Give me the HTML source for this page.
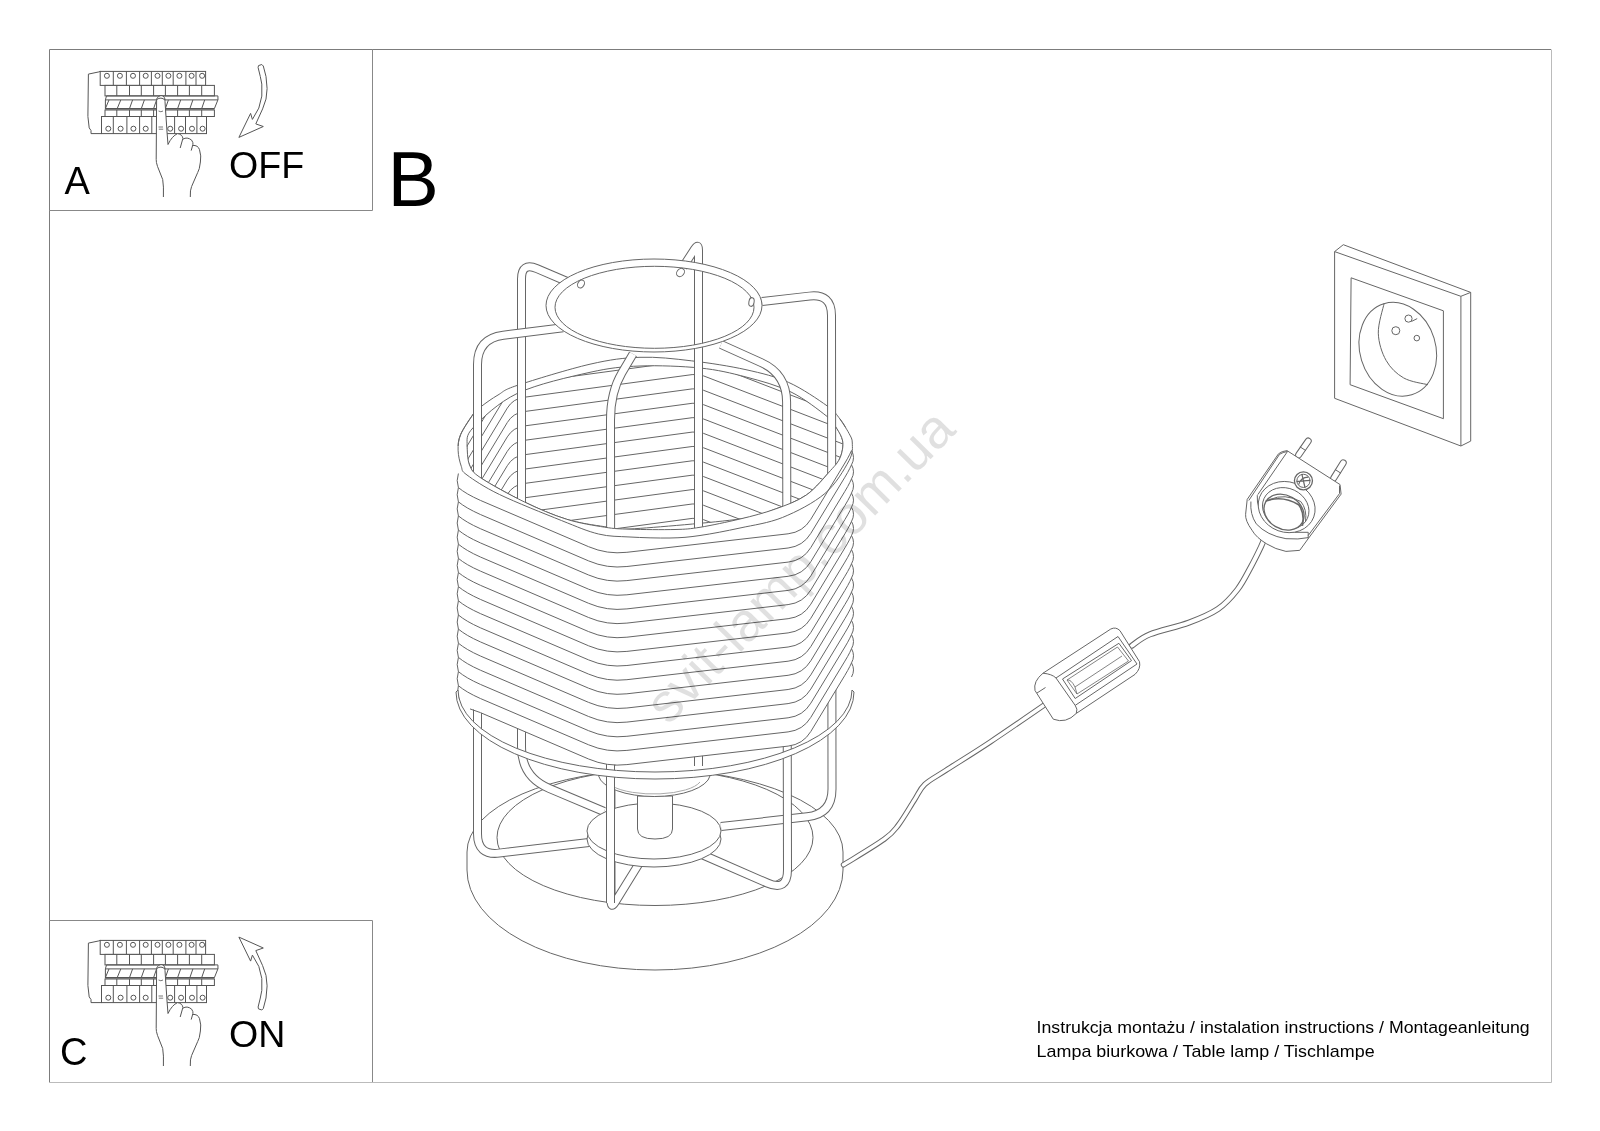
<!DOCTYPE html>
<html><head><meta charset="utf-8">
<style>
html,body{margin:0;padding:0;background:#fff;width:1600px;height:1131px;overflow:hidden}
svg{position:absolute;left:0;top:0;will-change:transform}
text{font-family:"Liberation Sans",sans-serif;fill:#000}
</style></head>
<body>
<svg width="1600" height="1131" viewBox="0 0 1600 1131">
<!-- frames -->
<g fill="none" stroke-width="1">
<path d="M49.5 1082.5 V49.5 H1551" stroke="#7c7c7c"/>
<path d="M1551.5 49.5 V1082.5 H49" stroke="#bbb"/>
<path d="M49 210.5 H372.5 V49" stroke="#888"/>
<path d="M49 920.5 H372.5 V1082" stroke="#888"/>
</g>
<text x="64.5" y="194" font-size="38">A</text>
<text x="229" y="178" font-size="37.6">OFF</text>
<text x="387.5" y="206" font-size="77">B</text>
<text x="60" y="1064.5" font-size="38">C</text>
<text x="229" y="1047" font-size="37.6">ON</text>
<text transform="translate(1036.6 1033.2) scale(1.055 1)" x="0" y="0" font-size="16.8">Instrukcja montażu / instalation instructions / Montageanleitung</text>
<text transform="translate(1036.6 1057) scale(1.066 1)" x="0" y="0" font-size="16.8">Lampa biurkowa / Table lamp / Tischlampe</text>
<path d="M467,852 A188,82 0 0 1 843,852 L843,870 A188,100 0 0 1 467,870 Z" fill="#fff" stroke="#666"/>
<ellipse cx="655" cy="837.5" rx="158" ry="68" fill="#fff" stroke="#666" stroke-width="1"/>
<path d="M458.1,450.2C458.0,444.9 458.1,440.6 460.6,434.6C463.1,428.6 469.8,418.7 473.3,414.0C476.8,409.3 477.4,409.5 481.5,406.3C485.6,403.1 492.0,398.5 498.0,395.0C504.0,391.5 502.2,390.4 517.5,385.3C532.8,380.2 569.6,368.9 590.0,364.2C610.4,359.5 623.1,357.9 640.0,357.3C656.9,356.7 673.6,358.7 691.3,360.8C709.0,362.9 729.8,366.1 746.0,369.7C762.2,373.3 775.1,376.4 788.6,382.4C802.1,388.4 818.4,399.7 827.0,405.8C835.6,411.9 836.3,414.4 840.0,419.0C843.7,423.6 847.0,429.4 849.0,433.4C851.0,437.4 852.3,438.4 852.3,443.0C852.3,447.6 853.5,452.5 848.9,460.9C844.3,469.3 836.0,484.1 824.9,493.5C813.8,502.9 796.5,511.6 782.4,517.5C768.2,523.4 765.4,525.6 740.0,528.8C714.6,532.0 653.6,535.7 630.0,536.6C606.4,537.5 609.9,536.7 598.5,534.0C587.1,531.3 577.9,527.1 561.4,520.5C544.9,513.9 515.2,502.1 499.5,494.5C483.8,486.9 473.4,479.7 467.0,475.0C460.6,470.3 462.8,470.5 461.3,466.4C459.8,462.3 458.2,455.5 458.1,450.2Z" fill="#fff" stroke="#666"/>
<clipPath id="opening"><path d="M467.0,446.0C467.6,439.8 464.9,436.3 473.3,427.5C481.7,418.7 498.1,402.5 517.5,393.3C537.0,384.1 569.6,376.9 590.0,372.3C610.4,367.8 621.7,366.7 640.0,366.0C658.3,365.3 682.3,366.2 700.0,368.0C717.7,369.8 730.8,373.0 746.0,377.0C761.2,381.0 777.5,385.4 791.0,392.0C804.5,398.6 819.5,410.6 827.0,416.4C834.5,422.2 833.4,423.5 835.9,427.0C838.4,430.5 840.6,434.3 841.7,437.6C842.9,440.9 843.2,443.4 842.8,447.0C842.4,450.6 841.5,455.1 839.5,459.0C837.5,462.9 836.0,464.5 830.5,470.5C825.0,476.5 815.7,488.5 806.5,494.9C797.3,501.3 786.5,505.0 775.4,509.0C764.3,513.0 764.2,515.7 740.0,519.0C715.8,522.3 652.5,527.7 630.0,529.0C607.5,530.3 615.3,528.3 604.7,526.7C594.1,525.1 579.8,523.3 566.4,519.2C553.0,515.1 538.5,508.8 524.3,501.9C510.1,495.0 490.1,484.1 481.0,478.0C471.9,471.9 471.8,470.3 469.5,465.0C467.2,459.7 466.4,452.2 467.0,446.0Z"/></clipPath>
<path d="M467.0,446.0C467.6,439.8 464.9,436.3 473.3,427.5C481.7,418.7 498.1,402.5 517.5,393.3C537.0,384.1 569.6,376.9 590.0,372.3C610.4,367.8 621.7,366.7 640.0,366.0C658.3,365.3 682.3,366.2 700.0,368.0C717.7,369.8 730.8,373.0 746.0,377.0C761.2,381.0 777.5,385.4 791.0,392.0C804.5,398.6 819.5,410.6 827.0,416.4C834.5,422.2 833.4,423.5 835.9,427.0C838.4,430.5 840.6,434.3 841.7,437.6C842.9,440.9 843.2,443.4 842.8,447.0C842.4,450.6 841.5,455.1 839.5,459.0C837.5,462.9 836.0,464.5 830.5,470.5C825.0,476.5 815.7,488.5 806.5,494.9C797.3,501.3 786.5,505.0 775.4,509.0C764.3,513.0 764.2,515.7 740.0,519.0C715.8,522.3 652.5,527.7 630.0,529.0C607.5,530.3 615.3,528.3 604.7,526.7C594.1,525.1 579.8,523.3 566.4,519.2C553.0,515.1 538.5,508.8 524.3,501.9C510.1,495.0 490.1,484.1 481.0,478.0C471.9,471.9 471.8,470.3 469.5,465.0C467.2,459.7 466.4,452.2 467.0,446.0Z" fill="#fff" stroke="#666"/>
<g clip-path="url(#opening)">
<path d="M455.0,451.6L507.3,365.0Q513.0,355.6 523.9,354.1L692.1,331.4Q698.0,330.6 703.6,332.8L850.0,389.1" fill="none" stroke="#666" stroke-width="1" />
<path d="M455.0,466.0L507.3,379.4Q513.0,370.0 523.9,368.5L692.1,345.8Q698.0,345.0 703.6,347.1L850.0,403.5" fill="none" stroke="#666" stroke-width="1" />
<path d="M455.0,480.3L507.3,393.8Q513.0,384.3 523.9,382.9L692.1,360.2Q698.0,359.4 703.6,361.5L850.0,417.9" fill="none" stroke="#666" stroke-width="1" />
<path d="M455.0,494.7L507.3,408.1Q513.0,398.7 523.9,397.3L692.1,374.6Q698.0,373.8 703.6,375.9L850.0,432.3" fill="none" stroke="#666" stroke-width="1" />
<path d="M455.0,509.1L507.3,422.5Q513.0,413.1 523.9,411.6L692.1,388.9Q698.0,388.1 703.6,390.3L850.0,446.7" fill="none" stroke="#666" stroke-width="1" />
<path d="M455.0,523.5L507.3,436.9Q513.0,427.5 523.9,426.0L692.1,403.3Q698.0,402.5 703.6,404.7L850.0,461.0" fill="none" stroke="#666" stroke-width="1" />
<path d="M455.0,537.9L507.3,451.3Q513.0,441.9 523.9,440.4L692.1,417.7Q698.0,416.9 703.6,419.0L850.0,475.4" fill="none" stroke="#666" stroke-width="1" />
<path d="M455.0,552.2L507.3,465.7Q513.0,456.2 523.9,454.8L692.1,432.1Q698.0,431.3 703.6,433.4L850.0,489.8" fill="none" stroke="#666" stroke-width="1" />
<path d="M455.0,566.6L507.3,480.0Q513.0,470.6 523.9,469.2L692.1,446.5Q698.0,445.7 703.6,447.8L850.0,504.2" fill="none" stroke="#666" stroke-width="1" />
<path d="M455.0,581.0L507.3,494.4Q513.0,485.0 523.9,483.5L692.1,460.8Q698.0,460.0 703.6,462.2L850.0,518.6" fill="none" stroke="#666" stroke-width="1" />
<path d="M455.0,595.4L507.3,508.8Q513.0,499.4 523.9,497.9L692.1,475.2Q698.0,474.4 703.6,476.6L850.0,532.9" fill="none" stroke="#666" stroke-width="1" />
<path d="M455.0,609.8L507.3,523.2Q513.0,513.8 523.9,512.3L692.1,489.6Q698.0,488.8 703.6,490.9L850.0,547.3" fill="none" stroke="#666" stroke-width="1" />
<path d="M455.0,624.1L507.3,537.6Q513.0,528.1 523.9,526.7L692.1,504.0Q698.0,503.2 703.6,505.3L850.0,561.7" fill="none" stroke="#666" stroke-width="1" />
<path d="M455.0,638.5L507.3,551.9Q513.0,542.5 523.9,541.1L692.1,518.4Q698.0,517.6 703.6,519.7L850.0,576.1" fill="none" stroke="#666" stroke-width="1" />
<path d="M455.0,652.9L507.3,566.3Q513.0,556.9 523.9,555.4L692.1,532.7Q698.0,531.9 703.6,534.1L850.0,590.5" fill="none" stroke="#666" stroke-width="1" />
<path d="M455.0,667.3L507.3,580.7Q513.0,571.3 523.9,569.8L692.1,547.1Q698.0,546.3 703.6,548.5L850.0,604.8" fill="none" stroke="#666" stroke-width="1" />
<path d="M455.0,681.7L507.3,595.1Q513.0,585.7 523.9,584.2L692.1,561.5Q698.0,560.7 703.6,562.8L850.0,619.2" fill="none" stroke="#666" stroke-width="1" />
</g>
<path d="M604.0,811.5L549.2,788.4Q521.5,776.8 521.5,746.8L521.5,279.0Q521.5,262.0 537.1,268.7L567.0,281.5" fill="none" stroke="#666" stroke-width="9" stroke-linejoin="round"/>
<path d="M604.0,811.5L549.2,788.4Q521.5,776.8 521.5,746.8L521.5,279.0Q521.5,262.0 537.1,268.7L567.0,281.5" fill="none" stroke="#fff" stroke-width="7" stroke-linejoin="round"/>
<path d="M698.5,776.0L698.5,250.0Q698.5,243.0 694.7,248.9L683.0,267.0" fill="none" stroke="#666" stroke-width="9" stroke-linejoin="round"/>
<path d="M698.5,776.0L698.5,250.0Q698.5,243.0 694.7,248.9L683.0,267.0" fill="none" stroke="#fff" stroke-width="7" stroke-linejoin="round"/>
<path d="M721.0,826.5L807.2,816.8Q832.0,814.0 832.0,789.0L831.5,315.6Q831.5,293.6 809.6,296.1L762.0,301.5" fill="none" stroke="#666" stroke-width="9" stroke-linejoin="round"/>
<path d="M721.0,826.5L807.2,816.8Q832.0,814.0 832.0,789.0L831.5,315.6Q831.5,293.6 809.6,296.1L762.0,301.5" fill="none" stroke="#fff" stroke-width="7" stroke-linejoin="round"/>
<path d="M591.0,842.3L499.3,853.1Q477.5,855.7 477.5,833.7L477.5,364.5Q477.5,338.5 503.3,335.2L563.0,327.7" fill="none" stroke="#666" stroke-width="9" stroke-linejoin="round"/>
<path d="M591.0,842.3L499.3,853.1Q477.5,855.7 477.5,833.7L477.5,364.5Q477.5,338.5 503.3,335.2L563.0,327.7" fill="none" stroke="#fff" stroke-width="7" stroke-linejoin="round"/>
<path d="M640.0,862.0L615.2,902.2Q611.0,909.0 611.0,901.0L610.5,420.0Q610.5,392.0 621.8,373.0L633.0,354.0" fill="none" stroke="#666" stroke-width="9" stroke-linejoin="round"/>
<path d="M640.0,862.0L615.2,902.2Q611.0,909.0 611.0,901.0L610.5,420.0Q610.5,392.0 621.8,373.0L633.0,354.0" fill="none" stroke="#fff" stroke-width="7" stroke-linejoin="round"/>
<path d="M703.0,855.0L767.3,883.0Q787.5,891.8 787.5,869.8L786.6,402.0Q786.5,374.0 761.0,362.5L721.0,344.5" fill="none" stroke="#666" stroke-width="9" stroke-linejoin="round"/>
<path d="M703.0,855.0L767.3,883.0Q787.5,891.8 787.5,869.8L786.6,402.0Q786.5,374.0 761.0,362.5L721.0,344.5" fill="none" stroke="#fff" stroke-width="7" stroke-linejoin="round"/>
<ellipse cx="654" cy="839" rx="67" ry="28" fill="#fff" stroke="#666" stroke-width="1"/>
<ellipse cx="654" cy="831" rx="67" ry="28" fill="#fff" stroke="#666" stroke-width="1"/>
<path d="M637.5,796 V829 Q637.5,839 655,839 Q672.5,839 672.5,829 V796 Z" fill="#fff" stroke="#666"/>
<path d="M598,766 L598.6,775.9 A56,23 0 0 0 710,775.9 L710,766 Z" fill="#fff" stroke="none"/>
<path d="M598.6,772 L598.6,775.9 A56,23 0 0 0 710,775.9 L710,772" fill="none" stroke="#666" stroke-width="1" />
<path d="M612,786 A48,16 0 0 0 700,782" fill="none" stroke="#aaa" stroke-width="1" />
<path d="M610.5,903 L610.5,740" fill="none" stroke="#666" stroke-width="9" stroke-linejoin="round"/>
<path d="M610.5,903 L610.5,740" fill="none" stroke="#fff" stroke-width="7" stroke-linejoin="round"/>
<path d="M467.0,446.0C467.4,449.2 467.2,459.7 469.5,465.0C471.8,470.3 471.9,471.9 481.0,478.0C490.1,484.1 510.1,495.0 524.3,501.9C538.5,508.8 553.0,515.0 566.4,519.2C579.8,523.4 594.1,525.5 604.7,527.2C615.3,528.9 618.3,528.8 630.0,529.2C641.7,529.6 663.3,529.8 675.0,529.5C686.7,529.2 689.2,529.0 700.0,527.3C710.8,525.5 727.4,522.0 740.0,519.0C752.6,516.0 764.3,513.0 775.4,509.0C786.5,505.0 797.3,501.3 806.5,494.9C815.7,488.5 825.0,476.5 830.5,470.5C836.0,464.5 837.5,462.9 839.5,459.0C841.5,455.1 842.4,450.6 842.8,447.0C843.2,443.4 842.9,440.9 841.7,437.6C840.6,434.3 836.9,428.8 835.9,427.0 L857,428 L857,662.9 L851.5,662.9L849.8,666.5Q848.0,670.1 844.9,675.3L810.8,731.5Q803.0,744.4 788.1,746.1L626.9,764.6Q607.0,766.9 588.6,759.0L480.4,712.6L466.0,706.2 L458.4,699.9 L451,699.9 L452,446 Z" fill="#fff" stroke="none"/>
<path d="M467.0,446.0C467.4,449.2 467.2,459.7 469.5,465.0C471.8,470.3 471.9,471.9 481.0,478.0C490.1,484.1 510.1,495.0 524.3,501.9C538.5,508.8 553.0,515.0 566.4,519.2C579.8,523.4 594.1,525.5 604.7,527.2C615.3,528.9 618.3,528.8 630.0,529.2C641.7,529.6 663.3,529.8 675.0,529.5C686.7,529.2 689.2,529.0 700.0,527.3C710.8,525.5 727.4,522.0 740.0,519.0C752.6,516.0 764.3,513.0 775.4,509.0C786.5,505.0 797.3,501.3 806.5,494.9C815.7,488.5 825.0,476.5 830.5,470.5C836.0,464.5 837.5,462.9 839.5,459.0C841.5,455.1 842.4,450.6 842.8,447.0C843.2,443.4 842.9,440.9 841.7,437.6C840.6,434.3 836.9,428.8 835.9,427.0" fill="none" stroke="#666" stroke-width="1" />
<path d="M473.3,414.0C471.2,417.4 463.1,428.6 460.6,434.6C458.1,440.6 458.0,444.9 458.1,450.2C458.2,455.5 459.8,462.3 461.3,466.4C462.8,470.5 460.6,470.3 467.0,475.0C473.4,479.7 483.8,486.9 499.5,494.5C515.2,502.1 544.9,513.9 561.4,520.5C577.9,527.1 587.1,531.2 598.5,534.0C609.9,536.8 618.1,536.3 630.0,537.0C641.9,537.7 658.3,538.2 670.0,538.0C681.7,537.8 688.3,537.2 700.0,535.5C711.7,533.8 726.3,531.0 740.0,528.0C753.7,525.0 768.2,523.2 782.4,517.5C796.5,511.8 813.8,502.9 824.9,493.5C836.0,484.1 844.3,469.3 848.9,460.9C853.5,452.5 852.3,447.6 852.3,443.0C852.3,438.4 851.0,437.4 849.0,433.4C847.0,429.4 841.5,421.4 840.0,419.0" fill="none" stroke="#666" stroke-width="1" />
<path d="M458.4,487.6Q466,494.0 480.4,500.4L480.4,500.4L588.6,546.7Q607.0,554.6 626.9,552.3L788.1,533.8Q803.0,532.1 810.8,519.3L844.9,463.0Q848.0,457.9 849.8,454.2L851.5,450.6" fill="none" stroke="#666" stroke-width="1" />
<path d="M458.4,501.8Q466,508.1 480.4,514.5L480.4,514.5L588.6,560.9Q607.0,568.8 626.9,566.5L788.1,548.0Q803.0,546.2 810.8,533.4L844.9,477.2Q848.0,472.1 849.8,468.4L851.5,464.8" fill="none" stroke="#666" stroke-width="1" />
<path d="M458.4,515.9Q466,522.3 480.4,528.7L480.4,528.7L588.6,575.0Q607.0,582.9 626.9,580.6L788.1,562.1Q803.0,560.4 810.8,547.6L844.9,491.3Q848.0,486.2 849.8,482.5L851.5,478.9" fill="none" stroke="#666" stroke-width="1" />
<path d="M458.4,530.1Q466,536.5 480.4,542.9L480.4,542.9L588.6,589.2Q607.0,597.1 626.9,594.8L788.1,576.3Q803.0,574.6 810.8,561.7L844.9,505.5Q848.0,500.4 849.8,496.7L851.5,493.1" fill="none" stroke="#666" stroke-width="1" />
<path d="M458.4,544.2Q466,550.6 480.4,557.0L480.4,557.0L588.6,603.3Q607.0,611.2 626.9,608.9L788.1,590.4Q803.0,588.7 810.8,575.9L844.9,519.6Q848.0,514.5 849.8,510.9L851.5,507.2" fill="none" stroke="#666" stroke-width="1" />
<path d="M458.4,558.4Q466,564.8 480.4,571.1L480.4,571.1L588.6,617.5Q607.0,625.4 626.9,623.1L788.1,604.6Q803.0,602.9 810.8,590.0L844.9,533.8Q848.0,528.6 849.8,525.0L851.5,521.4" fill="none" stroke="#666" stroke-width="1" />
<path d="M458.4,572.5Q466,578.9 480.4,585.3L480.4,585.3L588.6,631.6Q607.0,639.5 626.9,637.2L788.1,618.7Q803.0,617.0 810.8,604.2L844.9,547.9Q848.0,542.8 849.8,539.1L851.5,535.5" fill="none" stroke="#666" stroke-width="1" />
<path d="M458.4,586.6Q466,593.0 480.4,599.4L480.4,599.4L588.6,645.8Q607.0,653.6 626.9,651.4L788.1,632.9Q803.0,631.1 810.8,618.3L844.9,562.1Q848.0,556.9 849.8,553.3L851.5,549.6" fill="none" stroke="#666" stroke-width="1" />
<path d="M458.4,600.8Q466,607.2 480.4,613.6L480.4,613.6L588.6,659.9Q607.0,667.8 626.9,665.5L788.1,647.0Q803.0,645.3 810.8,632.5L844.9,576.2Q848.0,571.1 849.8,567.5L851.5,563.8" fill="none" stroke="#666" stroke-width="1" />
<path d="M458.4,615.0Q466,621.4 480.4,627.8L480.4,627.8L588.6,674.1Q607.0,682.0 626.9,679.7L788.1,661.2Q803.0,659.5 810.8,646.6L844.9,590.4Q848.0,585.2 849.8,581.6L851.5,578.0" fill="none" stroke="#666" stroke-width="1" />
<path d="M458.4,629.1Q466,635.5 480.4,641.9L480.4,641.9L588.6,688.2Q607.0,696.1 626.9,693.8L788.1,675.3Q803.0,673.6 810.8,660.8L844.9,604.5Q848.0,599.4 849.8,595.8L851.5,592.1" fill="none" stroke="#666" stroke-width="1" />
<path d="M458.4,643.2Q466,649.6 480.4,656.0L480.4,656.0L588.6,702.4Q607.0,710.2 626.9,708.0L788.1,689.5Q803.0,687.8 810.8,674.9L844.9,618.7Q848.0,613.5 849.8,609.9L851.5,606.2" fill="none" stroke="#666" stroke-width="1" />
<path d="M458.4,657.4Q466,663.8 480.4,670.2L480.4,670.2L588.6,716.5Q607.0,724.4 626.9,722.1L788.1,703.6Q803.0,701.9 810.8,689.1L844.9,632.8Q848.0,627.7 849.8,624.1L851.5,620.4" fill="none" stroke="#666" stroke-width="1" />
<path d="M458.4,671.6Q466,678.0 480.4,684.4L480.4,684.4L588.6,730.7Q607.0,738.6 626.9,736.3L788.1,717.8Q803.0,716.1 810.8,703.2L844.9,647.0Q848.0,641.9 849.8,638.2L851.5,634.6" fill="none" stroke="#666" stroke-width="1" />
<path d="M458.4,685.7Q466,692.1 480.4,698.5L480.4,698.5L588.6,744.8Q607.0,752.7 626.9,750.4L788.1,731.9Q803.0,730.2 810.8,717.4L844.9,661.1Q848.0,656.0 849.8,652.4L851.5,648.7" fill="none" stroke="#666" stroke-width="1" />
<path d="M470.0,708.9L480.4,712.6L588.6,759.0Q607.0,766.9 626.9,764.6L788.1,746.1Q803.0,744.4 810.8,731.5L844.9,675.3Q848.0,670.1 849.8,666.5L851.5,662.9" fill="none" stroke="#666" stroke-width="1" />
<path d="M458.4,487.6Q456,480.6 458.4,473.5M458.4,501.8Q456,494.8 458.4,487.6M458.4,515.9Q456,508.9 458.4,501.8M458.4,530.1Q456,523.1 458.4,515.9M458.4,544.2Q456,537.2 458.4,530.1M458.4,558.4Q456,551.4 458.4,544.2M458.4,572.5Q456,565.5 458.4,558.4M458.4,586.6Q456,579.6 458.4,572.5M458.4,600.8Q456,593.8 458.4,586.7M458.4,615.0Q456,608.0 458.4,600.8M458.4,629.1Q456,622.1 458.4,615.0M458.4,643.2Q456,636.2 458.4,629.1M458.4,657.4Q456,650.4 458.4,643.3M458.4,671.6Q456,664.6 458.4,657.4M458.4,685.7Q456,678.7 458.4,671.6M458.4,685.7Q456,692.7 459.4,699.9" fill="none" stroke="#666" stroke-width="1" />
<path d="M851.5,450.6Q855.5,457.6 851.5,464.8M851.5,464.8Q855.5,471.8 851.5,478.9M851.5,478.9Q855.5,485.9 851.5,493.0M851.5,493.1Q855.5,500.1 851.5,507.2M851.5,507.2Q855.5,514.2 851.5,521.4M851.5,521.4Q855.5,528.4 851.5,535.5M851.5,535.5Q855.5,542.5 851.5,549.6M851.5,549.6Q855.5,556.6 851.5,563.8M851.5,563.8Q855.5,570.8 851.5,578.0M851.5,578.0Q855.5,585.0 851.5,592.1M851.5,592.1Q855.5,599.1 851.5,606.2M851.5,606.2Q855.5,613.2 851.5,620.4M851.5,620.4Q855.5,627.4 851.5,634.6M851.5,634.6Q855.5,641.6 851.5,648.7M851.5,648.7Q855.5,655.7 851.5,662.9M851.5,662.9Q855.5,669.9 851.5,677.0" fill="none" stroke="#666" stroke-width="1" />
<path d="M458,690 A197,82 0 0 0 852,690 L854,692 A199,87 0 0 1 456,692 Z" fill="#fff" stroke="#666"/>
<path d="M546,305.5 A108,46.5 0 1 0 762,305.5 A108,46.5 0 1 0 546,305.5 Z M555,307.3 A99.5,41 0 1 1 754,307.3 A99.5,41 0 1 1 555,307.3 Z" fill="#fff" fill-rule="evenodd" stroke="#666"/>
<ellipse cx="581" cy="284" rx="3.2" ry="4.2" transform="rotate(30 581 284)" fill="#fff" stroke="#666"/>
<ellipse cx="680.5" cy="272.5" rx="3.5" ry="4.5" transform="rotate(40 680.5 272.5)" fill="#fff" stroke="#666"/>
<ellipse cx="751.5" cy="302" rx="2.6" ry="4.4" transform="rotate(10 751.5 302)" fill="#fff" stroke="#666"/>
<path d="M843.5,864.8C850.3,860.5 875.1,845.8 884.2,839.2C893.4,832.6 893.4,831.5 898.4,825.0C903.4,818.5 909.9,807.0 914.3,800.2C918.7,793.4 919.6,789.3 924.9,784.3C930.2,779.3 935.2,777.3 946.1,770.2C957.0,763.1 973.2,753.3 990.3,741.9C1007.4,730.5 1039.0,708.6 1048.7,702.0" fill="none" stroke="#666" stroke-width="5.4" stroke-linecap="round"/>
<path d="M843.5,864.8C850.3,860.5 875.1,845.8 884.2,839.2C893.4,832.6 893.4,831.5 898.4,825.0C903.4,818.5 909.9,807.0 914.3,800.2C918.7,793.4 919.6,789.3 924.9,784.3C930.2,779.3 935.2,777.3 946.1,770.2C957.0,763.1 973.2,753.3 990.3,741.9C1007.4,730.5 1039.0,708.6 1048.7,702.0" fill="none" stroke="#fff" stroke-width="3.4000000000000004" stroke-linecap="round"/>
<path d="M1132.0,645.6C1135.0,643.7 1140.5,638.1 1150.0,634.3C1159.5,630.5 1177.6,626.8 1188.9,622.6C1200.2,618.4 1209.9,614.5 1218.0,609.0C1226.1,603.5 1232.0,596.6 1237.5,589.5C1243.0,582.4 1247.3,573.3 1251.2,566.2C1255.1,559.1 1258.7,551.6 1261.0,546.7C1263.3,541.8 1264.3,538.6 1265.0,537.0" fill="none" stroke="#666" stroke-width="6" stroke-linecap="round"/>
<path d="M1132.0,645.6C1135.0,643.7 1140.5,638.1 1150.0,634.3C1159.5,630.5 1177.6,626.8 1188.9,622.6C1200.2,618.4 1209.9,614.5 1218.0,609.0C1226.1,603.5 1232.0,596.6 1237.5,589.5C1243.0,582.4 1247.3,573.3 1251.2,566.2C1255.1,559.1 1258.7,551.6 1261.0,546.7C1263.3,541.8 1264.3,538.6 1265.0,537.0" fill="none" stroke="#fff" stroke-width="4" stroke-linecap="round"/>
<path d="M1043,673.2 L1110.8,629 Q1116,626.5 1120,630.7 L1139.5,661.7 Q1141,668.6 1135,674.4 L1076.3,713.4 Q1066,724 1053.3,719.2 L1035,690.5 Q1033,681.3 1043,673.2 Z" fill="#fff" stroke="#666"/>
<path d="M1043,673.2 Q1052,674 1056,678 L1075.2,705.4 Q1078,709 1076.3,713.4" fill="none" stroke="#666" stroke-width="1" />
<path d="M1037,693 L1045.5,687.5" fill="none" stroke="#666" stroke-width="1" />
<path d="M1056,678 L1118,636.5 L1137,664" fill="none" stroke="#666" stroke-width="1" />
<path d="M1075.2,705.4 L1137,664" fill="none" stroke="#666" stroke-width="1" />
<path d="M1062.5,679 L1118.9,643.3 L1131.5,660.6 L1075.2,698.5 Z" fill="none" stroke="#666"/>
<path d="M1067,680 L1117.5,647 L1128.5,661 L1077,694 Z" fill="none" stroke="#666" stroke-width="0.8"/>
<path d="M1067,680 Q1071,679 1075,687 L1077,694" fill="none" stroke="#666" stroke-width="0.8" />
<path d="M1075,687 L1122,656" fill="none" stroke="#666" stroke-width="0.8" />
<g transform="translate(1235 440) scale(0.1061)"><path d="M600,140 L690,10" stroke="#666" stroke-width="66" stroke-linecap="round"/>
<path d="M600,140 L690,10" stroke="#fff" stroke-width="47" stroke-linecap="round"/>
<path d="M612,64 L668,100" fill="none" stroke="#666" stroke-width="1" vector-effect="non-scaling-stroke"/>
<path d="M930,360 L1020,215" stroke="#666" stroke-width="66" stroke-linecap="round"/>
<path d="M930,360 L1020,215" stroke="#fff" stroke-width="47" stroke-linecap="round"/>
<path d="M942,277 L998,313" fill="none" stroke="#666" stroke-width="1" vector-effect="non-scaling-stroke"/>
<path d="M115,560 L410,130 Q440,105 490,100 L990,420 L1000,510 L690,930 L610,1040 L480,1050 Q380,1030 300,980 Q200,920 160,850 Q95,760 100,700 Z" fill="#fff" stroke="#666" stroke-width="1" vector-effect="non-scaling-stroke"/>
<path d="M130,570 L420,135 Q450,115 495,108" fill="none" stroke="#666" stroke-width="1" vector-effect="non-scaling-stroke"/>
<path d="M215,515 L495,108" fill="none" stroke="#666" stroke-width="1" vector-effect="non-scaling-stroke"/>
<path d="M985,430 L985,505 L690,900" fill="none" stroke="#666" stroke-width="1" vector-effect="non-scaling-stroke"/>
<path d="M690,870 L690,930" fill="none" stroke="#666" stroke-width="1" vector-effect="non-scaling-stroke"/>
<path d="M150,580 Q140,700 200,790 Q300,900 480,930 Q600,940 690,920" fill="none" stroke="#666" stroke-width="1" vector-effect="non-scaling-stroke"/>
<path d="M210,520 Q200,650 300,770 Q400,860 560,870 L690,870" fill="none" stroke="#666" stroke-width="1" vector-effect="non-scaling-stroke"/>
<ellipse cx="487" cy="632" rx="272" ry="237" transform="rotate(20 487 632)" fill="#fff" stroke="#666" vector-effect="non-scaling-stroke"/>
<ellipse cx="478" cy="645" rx="225" ry="190" transform="rotate(25 478 645)" fill="none" stroke="#666" vector-effect="non-scaling-stroke"/>
<ellipse cx="462" cy="680" rx="198" ry="158" transform="rotate(30 462 680)" fill="#fff" stroke="#666" stroke-width="1.3" vector-effect="non-scaling-stroke"/>
<path d="M290,575 Q450,520 600,610 Q660,690 635,810" fill="none" stroke="#666" stroke-width="1.6" vector-effect="non-scaling-stroke"/>
<path d="M330,560 Q470,500 620,580 Q680,650 665,770" fill="none" stroke="#666" stroke-width="1" vector-effect="non-scaling-stroke"/>
<circle cx="645" cy="385" r="85" fill="#fff" stroke="#666" stroke-width="1.3" vector-effect="non-scaling-stroke"/>
<circle cx="645" cy="385" r="62" fill="none" stroke="#666" vector-effect="non-scaling-stroke"/>
<path d="M580,390 L710,380 M630,320 L660,450 M600,420 Q620,350 690,350" fill="none" stroke="#666" stroke-width="1.2" vector-effect="non-scaling-stroke"/></g>
<polygon points="1334.6,251.6 1343.3,244.7 1470.7,292.4 1470.7,441.1 1460.9,446.0 1334.6,398.3" fill="#fff" stroke="#666"/>
<path d="M1334.6,251.6 L1460.9,296.3 L1470.7,292.4" fill="none" stroke="#666" stroke-width="1" />
<path d="M1460.9,296.3 L1460.9,446.0" fill="none" stroke="#666" stroke-width="1" />
<polygon points="1351.1,277.8 1443.4,310.8 1443.4,418.7 1350.1,384.7" fill="none" stroke="#666"/>
<ellipse cx="1397.8" cy="349.3" rx="37.9" ry="47.6" transform="rotate(-17 1397.8 349.3)" fill="none" stroke="#666"/>
<path d="M1384.2,303.1C1383.2,308.1 1378.0,323.6 1378.3,333.2C1378.6,342.8 1381.9,353.0 1386.1,360.4C1390.3,367.9 1396.6,373.9 1403.6,377.9C1410.6,382.0 1423.8,383.6 1427.9,384.7" fill="none" stroke="#666"/>
<circle cx="1408.5" cy="318.6" r="3.6" fill="none" stroke="#666"/>
<circle cx="1395.8" cy="330.7" r="4.0" fill="none" stroke="#666"/>
<circle cx="1416.8" cy="338.1" r="2.8" fill="none" stroke="#666"/>
<path d="M1411.4,321.5 L1417.2,318.6" fill="none" stroke="#666" stroke-width="1" />
<path d="M100.2,71.4 L98.9,71.9 L88.4,74.1 L87.9,116.5 L89.2,127.9 L91,130.5 L91,133.6 L101.5,133.6" fill="none" stroke="#555" stroke-width="1"/>
<rect x="100.2" y="71.4" width="105.4" height="14" fill="#fff" stroke="#555"/>
<path d="M113.3,71.4 V85.4" fill="none" stroke="#555" stroke-width="1"/>
<path d="M126.4,71.4 V85.4" fill="none" stroke="#555" stroke-width="1"/>
<path d="M139.6,71.4 V85.4" fill="none" stroke="#555" stroke-width="1"/>
<path d="M151.4,71.4 V85.4" fill="none" stroke="#555" stroke-width="1"/>
<path d="M162.3,71.4 V85.4" fill="none" stroke="#555" stroke-width="1"/>
<path d="M173.2,71.4 V85.4" fill="none" stroke="#555" stroke-width="1"/>
<path d="M185.9,71.4 V85.4" fill="none" stroke="#555" stroke-width="1"/>
<path d="M196,71.4 V85.4" fill="none" stroke="#555" stroke-width="1"/>
<circle cx="106.9" cy="75.8" r="2.5" fill="none" stroke="#555"/>
<circle cx="119.9" cy="75.8" r="2.5" fill="none" stroke="#555"/>
<circle cx="133" cy="75.8" r="2.5" fill="none" stroke="#555"/>
<circle cx="145.7" cy="75.8" r="2.5" fill="none" stroke="#555"/>
<circle cx="157.5" cy="75.8" r="2.5" fill="none" stroke="#555"/>
<circle cx="168.4" cy="75.8" r="2.5" fill="none" stroke="#555"/>
<circle cx="179.4" cy="75.8" r="2.5" fill="none" stroke="#555"/>
<circle cx="191.6" cy="75.8" r="2.5" fill="none" stroke="#555"/>
<circle cx="202.1" cy="75.8" r="2.5" fill="none" stroke="#555"/>
<rect x="105" y="85.4" width="109.4" height="10.5" fill="#fff" stroke="#555"/>
<path d="M116.8,85.4 V95.9" fill="none" stroke="#555" stroke-width="1"/>
<path d="M129.5,85.4 V95.9" fill="none" stroke="#555" stroke-width="1"/>
<path d="M141.3,85.4 V95.9" fill="none" stroke="#555" stroke-width="1"/>
<path d="M153.6,85.4 V95.9" fill="none" stroke="#555" stroke-width="1"/>
<path d="M165.4,85.4 V95.9" fill="none" stroke="#555" stroke-width="1"/>
<path d="M177.6,85.4 V95.9" fill="none" stroke="#555" stroke-width="1"/>
<path d="M189.4,85.4 V95.9" fill="none" stroke="#555" stroke-width="1"/>
<path d="M201.7,85.4 V95.9" fill="none" stroke="#555" stroke-width="1"/>
<path d="M106.5,95.9 H217.9 L218,99.9 H105.4 Z M105.4,99.9 L105.4,108.6 H214.4 L217.9,99.9" fill="none" stroke="#555" stroke-width="1"/>
<path d="M109,99.9 L105.4,108.6" fill="none" stroke="#555" stroke-width="1"/>
<path d="M120.8,99.9 L117.2,108.6" fill="none" stroke="#555" stroke-width="1"/>
<path d="M132.6,99.9 L129.5,108.6" fill="none" stroke="#555" stroke-width="1"/>
<path d="M144.4,99.9 L141.3,108.6" fill="none" stroke="#555" stroke-width="1"/>
<path d="M156.6,99.9 L153.6,108.6" fill="none" stroke="#555" stroke-width="1"/>
<path d="M168.4,99.9 L165.4,108.6" fill="none" stroke="#555" stroke-width="1"/>
<path d="M180.7,99.9 L177.6,108.6" fill="none" stroke="#555" stroke-width="1"/>
<path d="M192.9,99.9 L189.9,108.6" fill="none" stroke="#555" stroke-width="1"/>
<path d="M204.7,99.9 L201.7,108.6" fill="none" stroke="#555" stroke-width="1"/>
<path d="M105,108.6 H214.4 M105,110 H214.4" fill="none" stroke="#555" stroke-width="1"/>
<rect x="105" y="110" width="109.4" height="6.5" fill="#fff" stroke="#555"/>
<path d="M116.8,110 V116.5" fill="none" stroke="#555" stroke-width="1"/>
<path d="M129.5,110 V116.5" fill="none" stroke="#555" stroke-width="1"/>
<path d="M141.3,110 V116.5" fill="none" stroke="#555" stroke-width="1"/>
<path d="M153.6,110 V116.5" fill="none" stroke="#555" stroke-width="1"/>
<path d="M165.4,110 V116.5" fill="none" stroke="#555" stroke-width="1"/>
<path d="M177.6,110 V116.5" fill="none" stroke="#555" stroke-width="1"/>
<path d="M189.4,110 V116.5" fill="none" stroke="#555" stroke-width="1"/>
<path d="M201.7,110 V116.5" fill="none" stroke="#555" stroke-width="1"/>
<rect x="101.5" y="116.5" width="105" height="17.1" fill="#fff" stroke="#555"/>
<path d="M113.3,116.5 V133.6" fill="none" stroke="#555" stroke-width="1"/>
<path d="M126.9,116.5 V133.6" fill="none" stroke="#555" stroke-width="1"/>
<path d="M139.6,116.5 V133.6" fill="none" stroke="#555" stroke-width="1"/>
<path d="M151.8,116.5 V133.6" fill="none" stroke="#555" stroke-width="1"/>
<path d="M174.6,116.5 V133.6" fill="none" stroke="#555" stroke-width="1"/>
<path d="M185.5,116.5 V133.6" fill="none" stroke="#555" stroke-width="1"/>
<path d="M196.9,116.5 V133.6" fill="none" stroke="#555" stroke-width="1"/>
<circle cx="108.3" cy="128.7" r="2.5" fill="none" stroke="#555"/>
<circle cx="120.6" cy="128.7" r="2.5" fill="none" stroke="#555"/>
<circle cx="133.4" cy="128.7" r="2.5" fill="none" stroke="#555"/>
<circle cx="145.7" cy="128.7" r="2.5" fill="none" stroke="#555"/>
<circle cx="170.2" cy="128.7" r="2.5" fill="none" stroke="#555"/>
<circle cx="181.1" cy="128.7" r="2.5" fill="none" stroke="#555"/>
<circle cx="192" cy="128.7" r="2.5" fill="none" stroke="#555"/>
<circle cx="202.6" cy="128.7" r="2.5" fill="none" stroke="#555"/>
<path d="M156.6,101 Q156,97 161,95.5 Q165.5,96 165,101.5 L167.1,133.1 L168,144.5 Q172,136 177.6,133.6 Q182.5,134.5 182.9,138.4 Q187,136.5 191.6,140.1 Q193.5,143 192.5,145.4 Q198,145 199.5,149.7 Q201.5,156 200.4,162 Q199.5,170 197.7,172.5 L191.6,186.5 Q190,190 190.3,197 L163.4,197 Q163.8,186 162.7,179.5 L157.5,166.4 Q156,162 156.2,159.4 Z" fill="#fff" stroke="none"/>
<path d="M156.6,197 M163.4,197 Q163.8,186 162.7,179.5 L157.5,166.4 Q156,162 156.2,159.4 L156.6,101 Q156,97 161,95.5 Q165.5,96 165,101.5 L167.1,133.1 L168,144.5" fill="none" stroke="#555" stroke-width="1"/>
<path d="M168,144.5 Q172,136 177.6,133.6 Q182.5,134.5 182.9,138.4 L180.2,148" fill="none" stroke="#555" stroke-width="1"/>
<path d="M182.9,139.2 Q187,136.5 191.6,140.1 Q193.5,143 192.9,144.5 L191.2,150.6" fill="none" stroke="#555" stroke-width="1"/>
<path d="M192.5,145.4 Q198,145 199.5,149.7 Q201.5,156 200.4,162 Q199.5,170 197.7,172.5 L191.6,186.5 Q190,190 190.3,197" fill="none" stroke="#555" stroke-width="1"/>
<path d="M156.8,99.5 Q161,96.5 165,100" fill="none" stroke="#555" stroke-width="1"/>
<path d="M158.5,111 Q161,112.5 163,111" fill="none" stroke="#555" stroke-width="0.8"/>
<path d="M158.5,127 H163 M158.8,129.2 H163.2" fill="none" stroke="#555" stroke-width="0.8"/>
<path d="M258.5,65.6 L261.8,64.5 L263.3,66 L266,76.5 L267.1,88.6 L266,99.1 L262.6,108.9 L255.8,123.9 L263.3,126.5 L238.9,137.4 L250.6,113.4 L252.4,119.4 L258.8,108.1 L261.8,96.1 L261.8,84.1 L260.3,76.5 L258.1,67.5 Z" fill="none" stroke="#555"/>
<g transform="translate(0,869)"><path d="M100.2,71.4 L98.9,71.9 L88.4,74.1 L87.9,116.5 L89.2,127.9 L91,130.5 L91,133.6 L101.5,133.6" fill="none" stroke="#555" stroke-width="1"/>
<rect x="100.2" y="71.4" width="105.4" height="14" fill="#fff" stroke="#555"/>
<path d="M113.3,71.4 V85.4" fill="none" stroke="#555" stroke-width="1"/>
<path d="M126.4,71.4 V85.4" fill="none" stroke="#555" stroke-width="1"/>
<path d="M139.6,71.4 V85.4" fill="none" stroke="#555" stroke-width="1"/>
<path d="M151.4,71.4 V85.4" fill="none" stroke="#555" stroke-width="1"/>
<path d="M162.3,71.4 V85.4" fill="none" stroke="#555" stroke-width="1"/>
<path d="M173.2,71.4 V85.4" fill="none" stroke="#555" stroke-width="1"/>
<path d="M185.9,71.4 V85.4" fill="none" stroke="#555" stroke-width="1"/>
<path d="M196,71.4 V85.4" fill="none" stroke="#555" stroke-width="1"/>
<circle cx="106.9" cy="75.8" r="2.5" fill="none" stroke="#555"/>
<circle cx="119.9" cy="75.8" r="2.5" fill="none" stroke="#555"/>
<circle cx="133" cy="75.8" r="2.5" fill="none" stroke="#555"/>
<circle cx="145.7" cy="75.8" r="2.5" fill="none" stroke="#555"/>
<circle cx="157.5" cy="75.8" r="2.5" fill="none" stroke="#555"/>
<circle cx="168.4" cy="75.8" r="2.5" fill="none" stroke="#555"/>
<circle cx="179.4" cy="75.8" r="2.5" fill="none" stroke="#555"/>
<circle cx="191.6" cy="75.8" r="2.5" fill="none" stroke="#555"/>
<circle cx="202.1" cy="75.8" r="2.5" fill="none" stroke="#555"/>
<rect x="105" y="85.4" width="109.4" height="10.5" fill="#fff" stroke="#555"/>
<path d="M116.8,85.4 V95.9" fill="none" stroke="#555" stroke-width="1"/>
<path d="M129.5,85.4 V95.9" fill="none" stroke="#555" stroke-width="1"/>
<path d="M141.3,85.4 V95.9" fill="none" stroke="#555" stroke-width="1"/>
<path d="M153.6,85.4 V95.9" fill="none" stroke="#555" stroke-width="1"/>
<path d="M165.4,85.4 V95.9" fill="none" stroke="#555" stroke-width="1"/>
<path d="M177.6,85.4 V95.9" fill="none" stroke="#555" stroke-width="1"/>
<path d="M189.4,85.4 V95.9" fill="none" stroke="#555" stroke-width="1"/>
<path d="M201.7,85.4 V95.9" fill="none" stroke="#555" stroke-width="1"/>
<path d="M106.5,95.9 H217.9 L218,99.9 H105.4 Z M105.4,99.9 L105.4,108.6 H214.4 L217.9,99.9" fill="none" stroke="#555" stroke-width="1"/>
<path d="M109,99.9 L105.4,108.6" fill="none" stroke="#555" stroke-width="1"/>
<path d="M120.8,99.9 L117.2,108.6" fill="none" stroke="#555" stroke-width="1"/>
<path d="M132.6,99.9 L129.5,108.6" fill="none" stroke="#555" stroke-width="1"/>
<path d="M144.4,99.9 L141.3,108.6" fill="none" stroke="#555" stroke-width="1"/>
<path d="M156.6,99.9 L153.6,108.6" fill="none" stroke="#555" stroke-width="1"/>
<path d="M168.4,99.9 L165.4,108.6" fill="none" stroke="#555" stroke-width="1"/>
<path d="M180.7,99.9 L177.6,108.6" fill="none" stroke="#555" stroke-width="1"/>
<path d="M192.9,99.9 L189.9,108.6" fill="none" stroke="#555" stroke-width="1"/>
<path d="M204.7,99.9 L201.7,108.6" fill="none" stroke="#555" stroke-width="1"/>
<path d="M105,108.6 H214.4 M105,110 H214.4" fill="none" stroke="#555" stroke-width="1"/>
<rect x="105" y="110" width="109.4" height="6.5" fill="#fff" stroke="#555"/>
<path d="M116.8,110 V116.5" fill="none" stroke="#555" stroke-width="1"/>
<path d="M129.5,110 V116.5" fill="none" stroke="#555" stroke-width="1"/>
<path d="M141.3,110 V116.5" fill="none" stroke="#555" stroke-width="1"/>
<path d="M153.6,110 V116.5" fill="none" stroke="#555" stroke-width="1"/>
<path d="M165.4,110 V116.5" fill="none" stroke="#555" stroke-width="1"/>
<path d="M177.6,110 V116.5" fill="none" stroke="#555" stroke-width="1"/>
<path d="M189.4,110 V116.5" fill="none" stroke="#555" stroke-width="1"/>
<path d="M201.7,110 V116.5" fill="none" stroke="#555" stroke-width="1"/>
<rect x="101.5" y="116.5" width="105" height="17.1" fill="#fff" stroke="#555"/>
<path d="M113.3,116.5 V133.6" fill="none" stroke="#555" stroke-width="1"/>
<path d="M126.9,116.5 V133.6" fill="none" stroke="#555" stroke-width="1"/>
<path d="M139.6,116.5 V133.6" fill="none" stroke="#555" stroke-width="1"/>
<path d="M151.8,116.5 V133.6" fill="none" stroke="#555" stroke-width="1"/>
<path d="M174.6,116.5 V133.6" fill="none" stroke="#555" stroke-width="1"/>
<path d="M185.5,116.5 V133.6" fill="none" stroke="#555" stroke-width="1"/>
<path d="M196.9,116.5 V133.6" fill="none" stroke="#555" stroke-width="1"/>
<circle cx="108.3" cy="128.7" r="2.5" fill="none" stroke="#555"/>
<circle cx="120.6" cy="128.7" r="2.5" fill="none" stroke="#555"/>
<circle cx="133.4" cy="128.7" r="2.5" fill="none" stroke="#555"/>
<circle cx="145.7" cy="128.7" r="2.5" fill="none" stroke="#555"/>
<circle cx="170.2" cy="128.7" r="2.5" fill="none" stroke="#555"/>
<circle cx="181.1" cy="128.7" r="2.5" fill="none" stroke="#555"/>
<circle cx="192" cy="128.7" r="2.5" fill="none" stroke="#555"/>
<circle cx="202.6" cy="128.7" r="2.5" fill="none" stroke="#555"/>
<path d="M156.6,101 Q156,97 161,95.5 Q165.5,96 165,101.5 L167.1,133.1 L168,144.5 Q172,136 177.6,133.6 Q182.5,134.5 182.9,138.4 Q187,136.5 191.6,140.1 Q193.5,143 192.5,145.4 Q198,145 199.5,149.7 Q201.5,156 200.4,162 Q199.5,170 197.7,172.5 L191.6,186.5 Q190,190 190.3,197 L163.4,197 Q163.8,186 162.7,179.5 L157.5,166.4 Q156,162 156.2,159.4 Z" fill="#fff" stroke="none"/>
<path d="M156.6,197 M163.4,197 Q163.8,186 162.7,179.5 L157.5,166.4 Q156,162 156.2,159.4 L156.6,101 Q156,97 161,95.5 Q165.5,96 165,101.5 L167.1,133.1 L168,144.5" fill="none" stroke="#555" stroke-width="1"/>
<path d="M168,144.5 Q172,136 177.6,133.6 Q182.5,134.5 182.9,138.4 L180.2,148" fill="none" stroke="#555" stroke-width="1"/>
<path d="M182.9,139.2 Q187,136.5 191.6,140.1 Q193.5,143 192.9,144.5 L191.2,150.6" fill="none" stroke="#555" stroke-width="1"/>
<path d="M192.5,145.4 Q198,145 199.5,149.7 Q201.5,156 200.4,162 Q199.5,170 197.7,172.5 L191.6,186.5 Q190,190 190.3,197" fill="none" stroke="#555" stroke-width="1"/>
<path d="M156.8,99.5 Q161,96.5 165,100" fill="none" stroke="#555" stroke-width="1"/>
<path d="M158.5,111 Q161,112.5 163,111" fill="none" stroke="#555" stroke-width="0.8"/>
<path d="M158.5,127 H163 M158.8,129.2 H163.2" fill="none" stroke="#555" stroke-width="0.8"/>
<g transform="translate(0,205.5) scale(1,-1)"><path d="M258.5,65.6 L261.8,64.5 L263.3,66 L266,76.5 L267.1,88.6 L266,99.1 L262.6,108.9 L255.8,123.9 L263.3,126.5 L238.9,137.4 L250.6,113.4 L252.4,119.4 L258.8,108.1 L261.8,96.1 L261.8,84.1 L260.3,76.5 L258.1,67.5 Z" fill="none" stroke="#555"/></g></g>
<text x="799.5" y="565.5" font-size="54.6" text-anchor="middle" fill="#000" fill-opacity="0.12" transform="rotate(-45.5 799.5 565.5)" dy="19">svit-lamp.com.ua</text>
</svg>
</body></html>
